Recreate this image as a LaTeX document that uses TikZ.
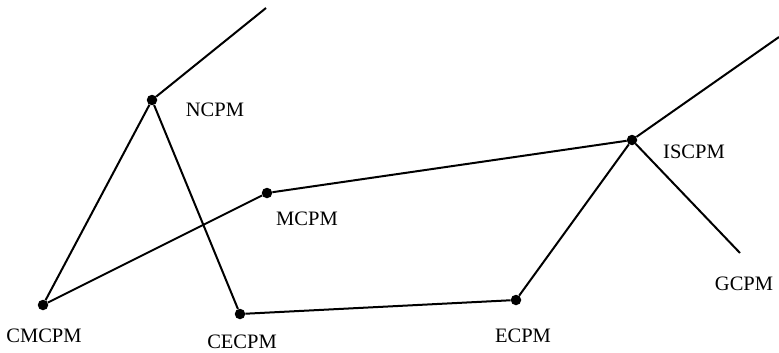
\documentclass[tikz,border=0pt]{standalone}
\usepackage{fontspec}
\setmainfont{Liberation Serif}
\begin{document}
\begin{tikzpicture}[x=1pt,y=-1pt,
  dot/.style={circle,fill=black,inner sep=0pt,minimum size=10.5pt},
  lbl/.style={anchor=base,inner sep=0pt,font=\fontsize{20.5}{24}\selectfont},
  edge/.style={line width=2pt}]
\useasboundingbox (0,0) rectangle (779,353);
\node[dot] (ncpm) at (152,100) {};
\node[dot] (cmcpm) at (43,305) {};
\node[dot] (mcpm) at (267,193) {};
\node[dot] (cecpm) at (240,314) {};
\node[dot] (ecpm) at (516,300) {};
\node[dot] (iscpm) at (632,140) {};
\coordinate (ntop) at (266,8);
\coordinate (itop) at (779,37);
\coordinate (gend) at (740,253);
\draw[edge] (ncpm) -- (ntop);
\draw[edge] (ncpm) -- (cmcpm);
\draw[edge] (ncpm) -- (cecpm);
\draw[edge] (cmcpm) -- (mcpm);
\draw[edge] (mcpm) -- (iscpm);
\draw[edge] (cecpm) -- (ecpm);
\draw[edge] (ecpm) -- (iscpm);
\draw[edge] (iscpm) -- (itop);
\draw[edge] (iscpm) -- (gend);
\node[lbl] (lncpm) at (215,116) {NCPM};
\node[lbl] (lmcpm) at (307,225) {MCPM};
\node[lbl] (liscpm) at (694,158) {ISCPM};
\node[lbl] (lgcpm) at (744,290) {GCPM};
\node[lbl] (lecpm) at (523,342) {ECPM};
\node[lbl] (lcecpm) at (242,348) {CECPM};
\node[lbl] (lcmcpm) at (44,342) {CMCPM};
\end{tikzpicture}
\end{document}
